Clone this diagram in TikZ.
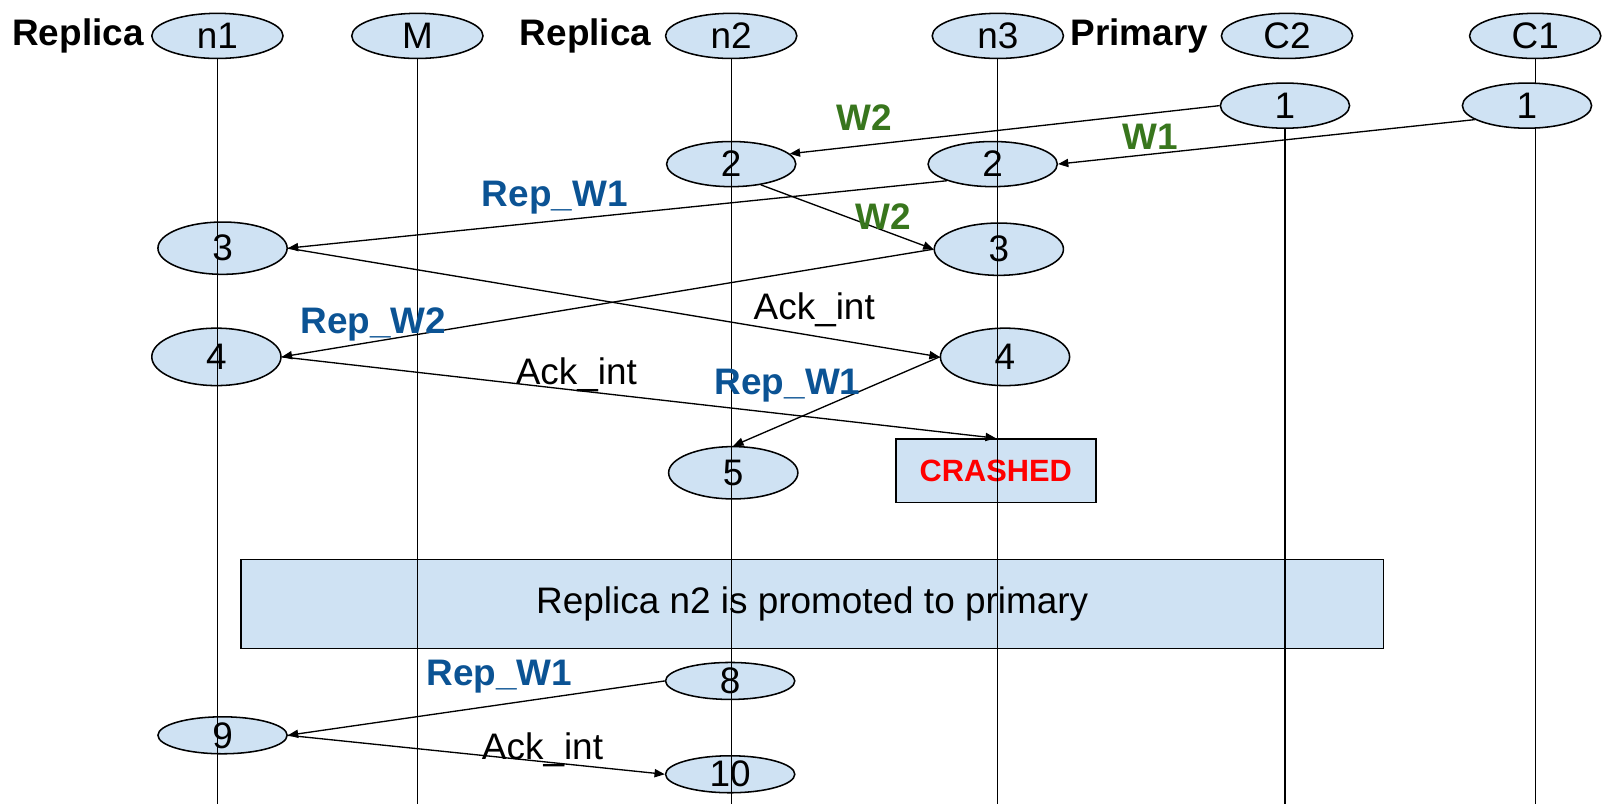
\documentclass[tikz,border=0pt]{standalone}
\usepackage{fontspec}
\setmainfont{Liberation Sans}
\usetikzlibrary{shapes.geometric,arrows.meta,backgrounds}
\definecolor{evfill}{HTML}{CFE2F3}
\definecolor{wgreen}{HTML}{38761D}
\definecolor{repblue}{HTML}{0B5394}
\begin{document}
\begin{tikzpicture}[x=1pt,y=-1pt,
			every node/.style={font=\fontsize{36}{40}\selectfont},
			proc/.style={draw, ellipse, fill=evfill, line width=1.5pt, inner sep=0pt, minimum width=128pt, minimum height=44pt},
			ev/.style={proc, minimum width=126pt},
			box/.style={draw, rectangle, fill=evfill, line width=1.5pt, inner sep=0pt},
			hdr/.style={font=\fontsize{36}{40}\selectfont\bfseries},
			wlbl/.style={font=\fontsize{36}{40}\selectfont\bfseries, text=wgreen},
			replbl/.style={font=\fontsize{36}{40}\selectfont\bfseries, text=repblue},
			life/.style={line width=1.2pt},
			arrow/.style={-{Triangle[length=10pt,width=8pt]}, line width=1.3pt}]
			\useasboundingbox (0,0) rectangle (1568,784);
			\coordinate (bot) at (0,784);
			
			% processes
			\node[hdr] (hrep1) at (76,35) {Replica};
			\node[proc] (n1) at (212,35) {n1};
			\node[proc] (m) at (407,35) {M};
			\node[hdr] (hrep2) at (571,35) {Replica};
			\node[proc] (n2) at (713,35) {n2};
			\node[proc] (n3) at (973,35) {n3};
			\node[hdr] (hprim) at (1111,35) {Primary};
			\node[proc] (c2) at (1255,35) {C2};
			\node[proc] (c1) at (1497,35) {C1};
			
			% events
			\node[ev] (c2one) at (1253,103) {1};
			\node[ev] (c1one) at (1489,103) {1};
			\node[ev] (n2two) at (713,160) {2};
			\node[ev] (n3two) at (968,160) {2};
			\node[ev, minimum height=51pt] (n1three) at (217,242) {3};
			\node[ev, minimum height=51pt] (n3three) at (974,243) {3};
			\node[ev, minimum height=56pt] (n1four) at (211,348) {4};
			\node[ev, minimum height=56pt] (n3four) at (980,348) {4};
			\node[ev, minimum height=51pt] (n2five) at (715,461) {5};
			\node[box, minimum width=195pt, minimum height=62pt, text=red, font=\fontsize{30}{34}\selectfont\bfseries] (crash) at (971,459) {CRASHED};
			\node[box, minimum width=1114pt, minimum height=87pt] (promo) at (792,589) {Replica n2 is promoted to primary};
			\node[ev, minimum height=34pt] (n2eight) at (712,664) {8};
			\node[ev, minimum height=34pt] (n1nine) at (217,717) {9};
			\node[ev, minimum height=34pt] (n2ten) at (712,755) {10};
			
			% lifelines
			\begin{scope}[on background layer]
				\draw[life] (c1.south) -- (c1 |- bot);
			\end{scope}
			\draw[life] (n1.south) -- (n1 |- bot);
			\draw[life] (m.south) -- (m |- bot);
			\draw[life] (n2.south) -- (n2 |- bot);
			\draw[life] (n3.south) -- (n3 |- bot);
			\draw[life] (c2one.south) -- (c2one.south |- bot);
			
			% messages
			\draw[arrow] (c2one.west) -- (n2two.10);
			\draw[arrow] (c1one.195) -- (n3two.east);
			\draw[arrow] (n3two.200) -- (n1three.east);
			\draw[arrow] (n2two.-35) -- (n3three.west);
			\draw[arrow] (n1three.east) -- (n3four.west);
			\draw[arrow] (n3three.west) -- (n1four.east);
			\draw[arrow] (n1four.east) -- (crash.north);
			\draw[arrow] (n3four.west) -- (n2five.north);
			\draw[arrow] (n2eight.west) -- (n1nine.east);
			\draw[arrow] (n1nine.east) -- (n2ten.west);
			
			% message labels
			\node[wlbl] (lw2a) at (843,115) {W2};
			\node[wlbl] (lw1) at (1122,133) {W1};
			\node[replbl] (lrep1a) at (541,193) {Rep\_W1};
			\node[wlbl] (lw2b) at (861,211) {W2};
			\node (lack1) at (794,302) {Ack\_int};
			\node[replbl] (lrep2) at (364,316) {Rep\_W2};
			\node (lack2) at (562,365) {Ack\_int};
			\node[replbl] (lrep1b) at (768,376) {Rep\_W1};
			\node[replbl] (lrep1c) at (487,660) {Rep\_W1};
			\node (lack3) at (529,731) {Ack\_int};
		\end{tikzpicture}
\end{document}
